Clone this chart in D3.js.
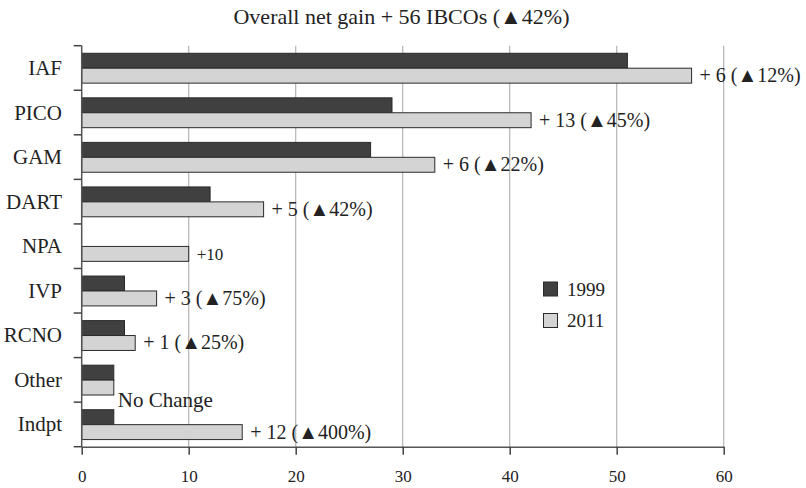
<!DOCTYPE html>
<html>
<head>
<meta charset="utf-8">
<script src="https://cdn.jsdelivr.net/npm/d3@7/dist/d3.min.js"></script>
<style>
  html, body { margin: 0; padding: 0; background: #fff; }
  svg { display: block; }
  text { font-family: "Liberation Serif", "DejaVu Serif", serif; fill: #222; }
</style>
</head>
<body>
<svg id="chart" width="806" height="488"></svg>
<script>
const categories = ["IAF", "PICO", "GAM", "DART", "NPA", "IVP", "RCNO", "Other", "Indpt"];
const values1999 = [51, 29, 27, 12, 0, 4, 4, 3, 3];
const values2011 = [57, 42, 33, 17, 10, 7, 5, 3, 15];
const changeLabels = ["+ 6 (▲12%)", "+ 13 (▲45%)", "+ 6 (▲22%)", "+ 5 (▲42%)", "+10", "+ 3 (▲75%)", "+ 1 (▲25%)", "No Change", "+ 12 (▲400%)"];
const xTicks = [0, 10, 20, 30, 40, 50, 60];
const seriesNames = ["1999", "2011"];
const title = "Overall net gain + 56 IBCOs (▲42%)";

const labelSizes = [20, 20, 20, 20, 17, 20, 20, 21, 20];
const colors = ["#404040", "#d4d4d4"];

const svg = d3.select("#chart");
const x = d3.scaleLinear().domain([0, 60]).range([81.7, 723.7]);
const y = d3.scaleBand().domain(categories).range([45.7, 446.7]).padding(0);
const step = y.step();
const barH = step * 0.335;
const off = step * 0.17;

// title
svg.append("text").attr("x", 401.5).attr("y", 24).attr("text-anchor", "middle")
  .attr("font-size", 22).text(title);

// gridlines
svg.append("g").selectAll("line").data(xTicks.filter(d => d > 0)).join("line")
  .attr("x1", d => x(d)).attr("x2", d => x(d))
  .attr("y1", 45.7).attr("y2", 446.7)
  .attr("stroke", "#b4b4b4").attr("stroke-width", 1.2);

// bars
const data = categories.map((c, i) => ({ c, v: [values1999[i], values2011[i]], label: changeLabels[i], size: labelSizes[i] }));
const g = svg.append("g");
data.forEach(d => {
  d.v.forEach((v, k) => {
    if (v <= 0) return;
    g.append("rect")
      .attr("x", x(0)).attr("y", y(d.c) + off + k * barH)
      .attr("width", x(v) - x(0)).attr("height", barH)
      .attr("fill", colors[k]).attr("stroke", "#2a2a2a").attr("stroke-width", 1);
  });
});

// change labels
data.forEach(d => {
  const isNo = d.label === "No Change";
  const bottom = y(d.c) + off + 2 * barH;
  svg.append("text")
    .attr("x", x(d.v[1]) + (isNo ? 4 : 8))
    .attr("y", isNo ? bottom + 12 : bottom - 1)
    .attr("font-size", d.size)
    .text(d.label);
});

// y axis
const yAxisG = svg.append("g");
yAxisG.append("line").attr("x1", x(0)).attr("x2", x(0)).attr("y1", 45.7).attr("y2", 446.7)
  .attr("stroke", "#555").attr("stroke-width", 1.5);
const bounds = categories.map(c => y(c)).concat([y(categories[categories.length - 1]) + step]);
yAxisG.selectAll("line.tk").data(bounds).join("line").attr("class", "tk")
  .attr("x1", x(0) - 8).attr("x2", x(0)).attr("y1", d => d).attr("y2", d => d)
  .attr("stroke", "#444").attr("stroke-width", 1.5);
yAxisG.selectAll("text").data(categories).join("text")
  .attr("x", 62).attr("y", d => y(d) + step / 2 + 7)
  .attr("text-anchor", "end").attr("font-size", 21).text(d => d);

// x axis
const xAxis = d3.axisBottom(x).tickValues(xTicks).tickSize(8).tickSizeOuter(0).tickFormat(d3.format("d"));
const xg = svg.append("g").attr("transform", "translate(0,446.7)").call(xAxis);
xg.select(".domain").attr("stroke", "#555").attr("stroke-width", 1.5);
xg.selectAll(".tick line").attr("stroke", "#444").attr("stroke-width", 1.5);
xg.selectAll(".tick text").attr("y", 35).attr("dy", 0).attr("font-size", 17)
  .attr("font-family", "Liberation Serif, serif").attr("fill", "#222");

// legend
const leg = svg.append("g");
seriesNames.forEach((n, k) => {
  leg.append("rect").attr("x", 543.5).attr("y", 282 + k * 31.5).attr("width", 14).attr("height", 14)
    .attr("fill", colors[k]).attr("stroke", "#2a2a2a").attr("stroke-width", 1);
  leg.append("text").attr("x", 567).attr("y", 296 + k * 31).attr("font-size", 19).text(n);
});
</script>
</body>
</html>
